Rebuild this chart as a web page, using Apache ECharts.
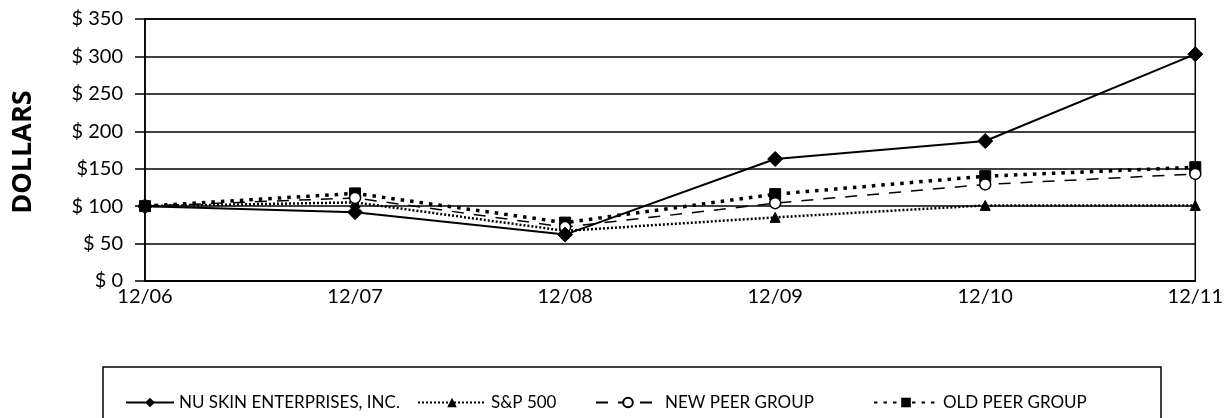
<!DOCTYPE html>
<html>
<head>
<meta charset="utf-8">
<script src="https://cdn.jsdelivr.net/npm/echarts@6/dist/echarts.min.js"></script>
<style>
html,body{margin:0;padding:0;background:#fff;}
#chart{width:1226px;height:418px;}
</style>
</head>
<body>
<div id="chart"></div>
<script>
const categories = ['12/06', '12/07', '12/08', '12/09', '12/10', '12/11'];
const nuSkin = [100, 92, 62, 163, 187, 303];
const sp500 = [100, 105, 67, 85, 101, 101];
const newPeer = [100, 111, 72, 104, 129, 143];
const oldPeer = [100, 117, 78, 116, 140, 152];
const yTickValues = [0, 50, 100, 150, 200, 250, 300, 350];
const yTickLabels = ['$ 0', '$ 50', '$ 100', '$150', '$ 200', '$ 250', '$ 300', '$ 350'];
const seriesNames = ['NU SKIN ENTERPRISES, INC.', 'S&P 500', 'NEW PEER GROUP', 'OLD PEER GROUP'];
const axisTitle = 'DOLLARS';

const FONT = 'Lato';
const chart = echarts.init(document.getElementById('chart'), null, {renderer: 'canvas'});

// one legend component per entry so each icon can have its own length
const legendLeft = [120, 412, 590, 868];
const legendIconW = [48, 68, 64, 64];
const legends = seriesNames.map((n, i) => ({
  left: legendLeft[i], top: 389,
  itemWidth: legendIconW[i], itemHeight: 12, itemGap: 0,
  textStyle: {fontFamily: FONT, fontSize: 17, color: '#000'},
  data: [n]
}));

const option = {
  backgroundColor: '#ffffff',
  animation: false,
  grid: {left: 145, right: 28, top: 19, bottom: 137, show: true, borderColor: '#000', borderWidth: 1.5, backgroundColor: 'transparent'},
  graphic: [
    {
      type: 'text',
      x: 23, y: 152, rotation: Math.PI / 2,
      style: {text: axisTitle, font: 'bold 27px "Open Sans"', fill: '#000', align: 'center', verticalAlign: 'middle'}
    },
    {
      type: 'rect',
      shape: {x: 103, y: 367, width: 1058, height: 80},
      style: {fill: 'none', stroke: '#000', lineWidth: 1.5}
    }
  ],
  legend: legends,
  xAxis: {
    type: 'category', data: categories, boundaryGap: false,
    axisLine: {lineStyle: {color: '#000', width: 1.5}},
    axisTick: {show: false},
    axisLabel: {color: '#000', fontFamily: FONT, fontSize: 20, margin: 6},
    splitLine: {show: false}
  },
  yAxis: {
    type: 'value', min: 0, max: 350, interval: 50,
    axisLine: {show: true, lineStyle: {color: '#000', width: 1.5}},
    axisTick: {show: true, length: 10, lineStyle: {color: '#000', width: 1.5}},
    axisLabel: {color: '#000', fontFamily: FONT, fontSize: 20, margin: 22,
      formatter: v => yTickLabels[yTickValues.indexOf(v)]},
    splitLine: {show: true, lineStyle: {color: '#000', width: 1.5}}
  },
  series: [
    {
      name: seriesNames[0], type: 'line', data: nuSkin, z: 5,
      symbol: 'diamond', symbolSize: 15,
      lineStyle: {color: '#000', width: 2, type: 'solid'},
      itemStyle: {color: '#000', borderColor: '#000'}
    },
    {
      name: seriesNames[1], type: 'line', data: sp500, z: 3,
      symbol: 'triangle', symbolSize: 10,
      lineStyle: {color: '#000', width: 2.5, type: [2, 2]},
      itemStyle: {color: '#000', borderColor: '#000'}
    },
    {
      name: seriesNames[2], type: 'line', data: newPeer, z: 4,
      symbol: 'circle', symbolSize: 11,
      lineStyle: {color: '#000', width: 1.5, type: [12, 10]},
      itemStyle: {color: '#fff', borderColor: '#000', borderWidth: 1.5}
    },
    {
      name: seriesNames[3], type: 'line', data: oldPeer, z: 3,
      symbol: 'rect', symbolSize: 11,
      lineStyle: {color: '#000', width: 3.5, type: [3.5, 6]},
      itemStyle: {color: '#000', borderColor: '#000'}
    }
  ]
};
chart.setOption(option);
</script>
</body>
</html>
